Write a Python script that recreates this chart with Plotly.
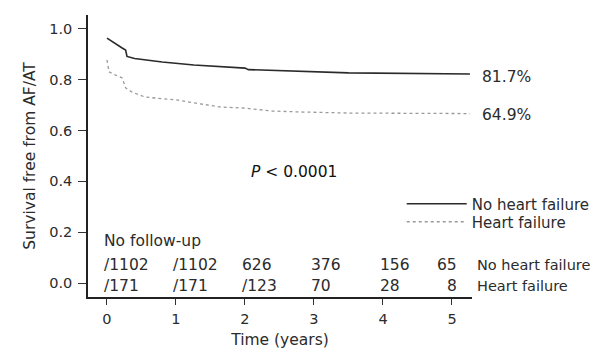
import plotly.graph_objects as go

# ---- data ----
t_no_hf = [0, 0.10, 0.15, 0.22, 0.27, 0.29, 0.40, 0.80, 1.26, 1.70, 2.00, 2.05, 2.60, 3.50, 5.26]
s_no_hf = [0.964, 0.945, 0.935, 0.925, 0.917, 0.892, 0.884, 0.870, 0.858, 0.850, 0.846, 0.840, 0.835, 0.827, 0.823]

t_hf = [0, 0.03, 0.12, 0.22, 0.27, 0.36, 0.55, 1.03, 1.27, 1.63, 1.97, 2.40, 2.85, 3.52, 5.26]
s_hf = [0.878, 0.831, 0.819, 0.807, 0.768, 0.752, 0.732, 0.720, 0.709, 0.693, 0.689, 0.677, 0.673, 0.669, 0.667]

series_names = ["No heart failure", "Heart failure"]
end_labels = ["81.7%", "64.9%"]
end_label_y = [0.811, 0.661]

risk_times = [0, 1, 2, 3, 4, 5]
risk_no_hf = ["/1102", "/1102", "626", "376", "156", "65"]
risk_hf = ["/171", "/171", "/123", "70", "28", "8"]

x_ticks = [0, 1, 2, 3, 4, 5]
y_ticks = [0.0, 0.2, 0.4, 0.6, 0.8, 1.0]
y_tick_text = ["0.0", "0.2", "0.4", "0.6", "0.8", "1.0"]

p_text = "<i>P</i> < 0.0001"

# ---- styling ----
FONT = "DejaVu Sans"
TXT = "#2b2b2b"
FS = 15.5
FS_R = 15
FS_ROW = 14.5

fig = go.Figure()
fig.add_trace(go.Scatter(x=t_no_hf, y=s_no_hf, mode="lines", name=series_names[0],
                         legend="legend",
                         line=dict(color="#2a2a2a", width=1.6)))
fig.add_trace(go.Scatter(x=t_hf, y=s_hf, mode="lines", name=series_names[1],
                         legend="legend2",
                         line=dict(color="#9a9a9a", width=1.3, dash="dot")))

ann = []
for lab, yv in zip(end_labels, end_label_y):
    ann.append(dict(x=1.0208, y=yv, xref="paper", yref="y", text=lab, showarrow=False,
                    xanchor="left", yanchor="middle", font=dict(family=FONT, size=FS, color=TXT)))
ann.append(dict(x=2.71, y=0.437, xref="x", yref="y", text=p_text, showarrow=False,
                xanchor="center", yanchor="middle", font=dict(family=FONT, size=FS, color="#111")))
ann.append(dict(x=0, y=0.165, xref="x", yref="y", text="No follow-up", showarrow=False,
                xanchor="left", yanchor="middle", xshift=-5, font=dict(family=FONT, size=FS, color=TXT)))
for row, yv in ((risk_no_hf, 0.071), (risk_hf, -0.010)):
    for i, (t, lab) in enumerate(zip(risk_times, row)):
        last = i == len(risk_times) - 1
        ann.append(dict(x=t, y=yv, xref="x", yref="y", text=lab, showarrow=False,
                        xanchor="right" if last else "left", yanchor="middle",
                        xshift=7 if last else -5,
                        font=dict(family=FONT, size=FS, color=TXT)))
for name, yv in zip(series_names, (0.071, -0.010)):
    ann.append(dict(x=1.0078, y=yv, xref="paper", yref="y", text=name, showarrow=False,
                    xanchor="left", yanchor="middle", font=dict(family=FONT, size=FS_ROW, color=TXT)))

leg_common = dict(xanchor="left", yanchor="middle", bgcolor="rgba(0,0,0,0)",
                  font=dict(family=FONT, size=FS_R, color=TXT), itemwidth=60)
# the page body adds an 8px offset, so the figure is 8px smaller than the window
fig.update_layout(
    width=591, height=342,
    margin=dict(l=80, r=127, t=7, b=53, autoexpand=False),
    paper_bgcolor="white", plot_bgcolor="white",
    font=dict(family=FONT, size=FS, color=TXT),
    showlegend=True,
    legend=dict(x=0.817, y=0.33, **leg_common),
    legend2=dict(x=0.817, y=0.266, **leg_common),
    annotations=ann,
)
fig.update_xaxes(range=[-0.275, 5.29], tickvals=x_ticks, ticks="outside", ticklen=6, tickwidth=1,
                 tickcolor="#333", showline=True, linecolor="#222", linewidth=1.5,
                 showgrid=False, zeroline=False, ticklabelstandoff=2, automargin=False,
                 tickfont=dict(family=FONT, size=14.5, color=TXT),
                 title=dict(text="Time (years)", standoff=8, font=dict(family=FONT, size=FS, color=TXT)))
fig.update_yaxes(range=[-0.055, 1.055], tickvals=y_ticks, ticktext=y_tick_text, ticks="outside",
                 ticklen=8, tickwidth=1.2, tickcolor="#333", showline=True, linecolor="#222",
                 linewidth=1.5, showgrid=False, zeroline=False, ticklabelstandoff=3, automargin=False,
                 tickfont=dict(family=FONT, size=14.5, color=TXT),
                 title=dict(text="Survival free from AF/AT", standoff=10,
                            font=dict(family=FONT, size=FS, color=TXT)))

fig.write_html("out.html")
